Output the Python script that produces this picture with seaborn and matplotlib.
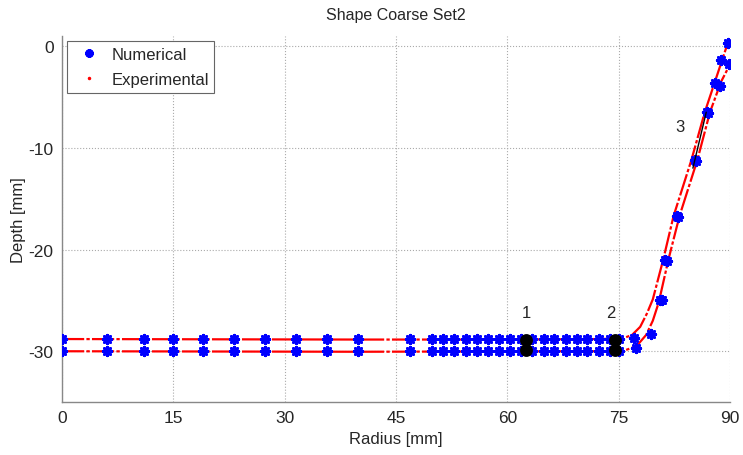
import matplotlib
matplotlib.use("Agg")
import matplotlib.pyplot as plt
import seaborn as sns
import pandas as pd
from matplotlib.lines import Line2D

# ---- data ----
flat_r = [0, 6.1, 11.0, 15.0, 19.0, 23.2, 27.4, 31.5, 35.7, 39.9, 46.9, 49.8, 51.3,
          52.8, 54.4, 55.9, 57.4, 58.9, 60.4, 61.9, 63.3, 64.9, 66.3, 67.9, 69.4,
          70.8, 72.3, 73.8, 75.0]
num_inner_r = flat_r + [77.0, 79.3, 80.6, 81.3, 82.9, 85.3, 86.9, 88.0, 88.8, 89.7]
num_inner_d = [-28.8] * len(flat_r) + [-28.7, -28.3, -25.0, -21.0, -16.7, -11.2, -6.5, -3.6, -1.4, 0.3]
num_outer_r = flat_r + [77.4, 80.9, 81.5, 83.0, 85.4, 87.0, 88.7, 89.8]
num_outer_d = [-30.0] * len(flat_r) + [-29.7, -25.0, -21.1, -16.8, -11.3, -6.6, -3.9, -1.8]

exp_inner_r = [0, 40, 60, 72, 75.5, 76.8, 77.9, 78.8, 79.6, 81.0, 82.4, 84.8, 86.6, 88.2, 89.7]
exp_inner_d = [-28.8, -28.85, -28.85, -28.8, -28.75, -28.4, -27.6, -26.3, -24.9, -21.0, -16.7, -11.2, -6.5, -3.0, 0.3]
exp_outer_r = [0, 40, 70, 75.5, 77.4, 78.7, 79.6, 80.4, 81.7, 83.2, 85.6, 87.3, 88.8, 90.0]
exp_outer_d = [-30.0, -30.05, -30.0, -30.0, -29.5, -28.4, -27.0, -25.2, -21.0, -16.7, -11.2, -6.5, -3.5, -1.8]

mark_r = [62.5, 62.5, 74.5, 74.5]
mark_d = [-28.9, -29.9, -28.9, -29.9]
seg3_r = [85.0, 86.8]
seg3_d = [-12.0, -6.5]

labels = ["1", "2", "3"]
label_r = [61.9, 73.3, 82.6]
label_d = [-26.2, -26.2, -7.9]

xticks = [0, 15, 30, 45, 60, 75, 90]
yticks = [0, -10, -20, -30]

sns.set_style("white")
plt.rcParams['font.family'] = ['Liberation Sans', 'DejaVu Sans']
plt.rcParams['axes.unicode_minus'] = False

fig = plt.figure(figsize=(7.43, 4.56), dpi=100)
ax = fig.add_axes([0.0834, 0.116, 0.8991, 0.803])

dash = (0, (10, 1.0, 1.5, 1.0))
for r, d in [(exp_inner_r, exp_inner_d), (exp_outer_r, exp_outer_d)]:
    df = pd.DataFrame({"r": r, "d": d})
    sns.lineplot(data=df, x="r", y="d", sort=False, ax=ax, color="red",
                 linewidth=1.6, linestyle=dash, zorder=2, estimator=None)

ast = (8, 2, 0)
for r, d in [(num_inner_r, num_inner_d), (num_outer_r, num_outer_d)]:
    df = pd.DataFrame({"r": r, "d": d})
    sns.scatterplot(data=df, x="r", y="d", ax=ax, marker=ast, s=38,
                    color="blue", edgecolor="blue", linewidth=2.0, zorder=3)

sns.scatterplot(x=mark_r, y=mark_d, ax=ax, marker="o", s=60, color="black",
                edgecolor="black", linewidth=1.5, zorder=4)
ax.plot(seg3_r, seg3_d, color="black", linewidth=1.0, zorder=4)

for t, r, d in zip(labels, label_r, label_d):
    ax.text(r, d, t, fontsize=12, ha="left", va="center")

ax.set_xlim(0, 90)
ax.set_ylim(-35, 1)
ax.set_xticks(xticks)
ax.set_yticks(yticks)
ax.tick_params(direction="in", labelsize=12.5, length=4, color="#888888", pad=6)
ax.grid(True, linestyle=":", color="#aaaaaa", linewidth=0.8)
for s in ["top", "right"]:
    ax.spines[s].set_visible(False)
for s in ["left", "bottom"]:
    ax.spines[s].set_color("#888888")
    ax.spines[s].set_linewidth(1.0)

ax.set_xlabel("Radius [mm]", fontsize=12, labelpad=4)
ax.set_ylabel("Depth [mm]", fontsize=12, labelpad=2)
ax.set_title("Shape Coarse Set2", fontsize=11.5, pad=12)

handles = [Line2D([], [], marker=ast, color="blue", linestyle="none", markersize=6,
                  markeredgewidth=2.0),
           Line2D([], [], marker="o", color="red", linestyle="none", markersize=1.5)]
leg = ax.legend(handles, ["Numerical", "Experimental"], loc="upper left",
                fontsize=12, frameon=True, fancybox=False, framealpha=1,
                edgecolor="#666666", borderaxespad=0.3, handletextpad=0.3,
                borderpad=0.35, labelspacing=0.6, handlelength=2.0)
leg.get_frame().set_linewidth(0.8)

fig.savefig("out.png", dpi=100)
